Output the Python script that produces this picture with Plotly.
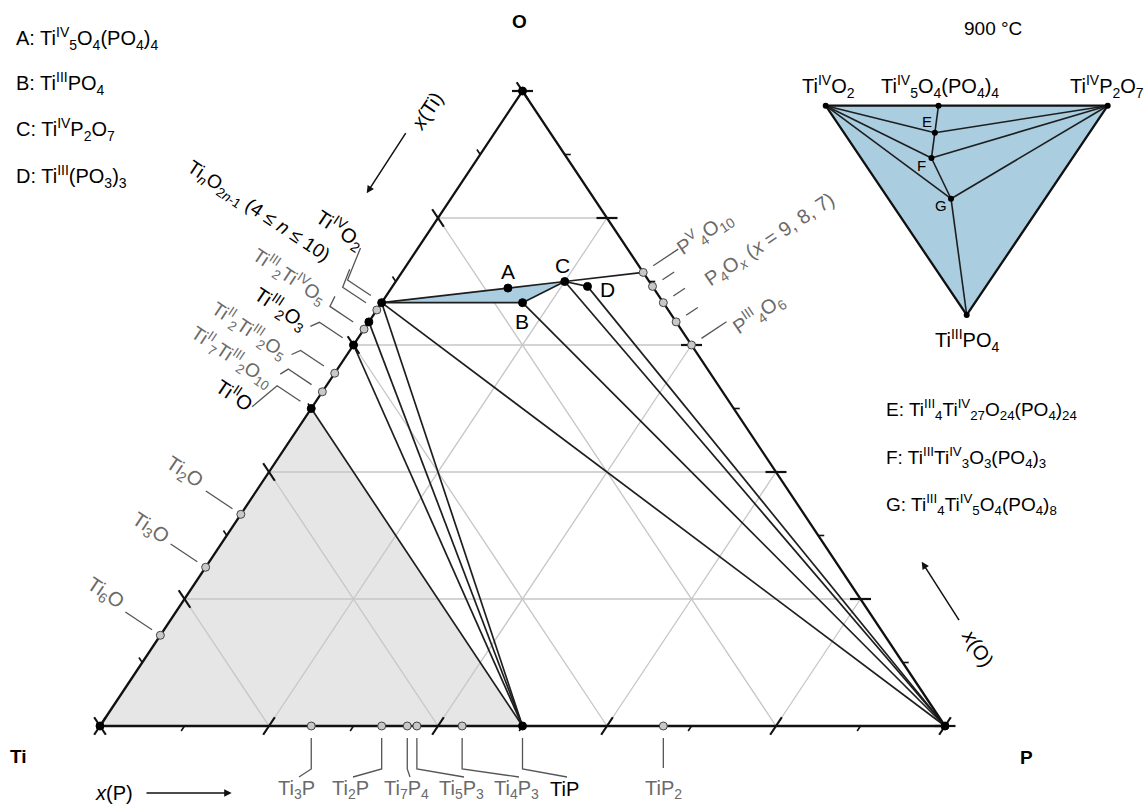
import plotly.graph_objects as go

W, H = 1148, 805

# ------------------------------------------------------------------ data
# phases of the Ti-P-O system (atoms per formula unit)
phase = ["Ti", "P", "O",
         "TiO", "Ti9O10", "Ti4O5", "Ti2O3", "Ti3O5", "Ti4O7", "Ti10O19", "TiO2",
         "Ti2O", "Ti3O", "Ti6O",
         "Ti3P", "Ti2P", "Ti7P4", "Ti5P3", "Ti4P3", "TiP", "TiP2",
         "P4O10", "P4O9", "P4O8", "P4O7", "P4O6",
         "A", "B", "C", "D"]
n_Ti = [1, 0, 0, 1, 9, 4, 2, 3, 4, 10, 1, 2, 3, 6, 3, 2, 7, 5, 4, 1, 1, 0, 0, 0, 0, 0, 5, 1, 1, 1]
n_P = [0, 1, 0, 0, 0, 0, 0, 0, 0, 0, 0, 0, 0, 0, 1, 1, 4, 3, 3, 1, 2, 4, 4, 4, 4, 4, 4, 1, 2, 3]
n_O = [0, 0, 1, 1, 10, 5, 3, 5, 7, 19, 2, 1, 1, 1, 0, 0, 0, 0, 0, 0, 0, 10, 9, 8, 7, 6, 20, 4, 7, 9]
stable = [1, 1, 1, 1, 0, 0, 1, 0, 1, 0, 1, 0, 0, 0, 0, 0, 0, 0, 0, 1, 0, 0, 0, 0, 0, 0, 1, 1, 1, 1]

# tie lines (pairs of phases)
tie_a = ["TiO", "Ti2O3", "Ti4O7", "TiO2", "TiO2", "B", "C", "D", "TiO2", "A", "TiO2", "B", "C", "C"]
tie_b = ["TiP", "TiP", "TiP", "TiP", "P", "P", "P", "P", "A", "C", "B", "C", "D", "P4O10"]

region_metal = ["Ti", "TiO", "TiP"]
region_oxide = ["TiO2", "A", "C", "B"]

grid_levels = [0.2, 0.4, 0.6, 0.8]
tick_levels = [0.0, 0.1, 0.2, 0.3, 0.4, 0.5, 0.6, 0.7, 0.8, 0.9, 1.0]

# inset (900 °C): formula-unit coefficients of TiO2, TiP2O7, TiPO4
inset_names = ["TiO2", "TiP2O7", "TiPO4", "A", "E", "F", "G"]
k_TiO2 = [1, 0, 0, 3, 17, 2, 3]
k_TiP2O7 = [0, 1, 0, 2, 10, 1, 2]
k_TiPO4 = [0, 0, 1, 0, 4, 1, 4]
inset_tie_a = ["TiO2", "TiO2", "TiO2", "TiP2O7", "TiP2O7", "TiP2O7", "A", "E", "F", "G"]
inset_tie_b = ["E", "F", "G", "E", "F", "G", "E", "F", "G", "TiPO4"]

# ------------------------------------------------------------------ geometry
X0, SX, Y0, SY = 100.0, 845.0, 726.0, 635.0      # pixel frame of the main triangle
IU0, IU1, IV0, IV1 = 825.7, 1107.7, 315.0, 105.7  # pixel frame of the inset
PAD = 0.05

FONT = "Liberation Sans Narrow, Arial Narrow, Liberation Sans, Arial, sans-serif"
GREY_TXT = "#6a6a6a"
BLUE = "#aacde0"
FS = 20


def frac(name):
    i = phase.index(name)
    t = n_Ti[i] + n_P[i] + n_O[i]
    return n_Ti[i] / t, n_P[i] / t, n_O[i] / t


def to_xy(ti, p, o):
    return p + o / 2.0, o


def xy_px(x, y):
    return X0 + SX * x, Y0 - SY * y


def px_xy(px, py):
    return (px - X0) / SX, (Y0 - py) / SY


def phase_xy(name):
    return to_xy(*frac(name))


def phase_px(name):
    return xy_px(*phase_xy(name))


def inset_uv(name):
    i = inset_names.index(name)
    a, b, c = k_TiO2[i], k_TiP2O7[i], k_TiPO4[i]
    s = a + b + c
    return b / s + 0.5 * c / s, 1 - c / s


fig = go.Figure()


def lines(segs, color, width, xa="x", ya="y"):
    xs, ys = [], []
    for s in segs:
        for (x, y) in s:
            xs.append(x)
            ys.append(y)
        xs.append(None)
        ys.append(None)
    fig.add_trace(go.Scatter(x=xs, y=ys, mode="lines", line=dict(color=color, width=width),
                             hoverinfo="skip", xaxis=xa, yaxis=ya))


def polygon(pts, fillcolor, xa="x", ya="y"):
    xs = [p[0] for p in pts] + [pts[0][0]]
    ys = [p[1] for p in pts] + [pts[0][1]]
    fig.add_trace(go.Scatter(x=xs, y=ys, mode="lines", fill="toself", fillcolor=fillcolor,
                             line=dict(width=0, color=fillcolor), hoverinfo="skip", xaxis=xa, yaxis=ya))


def px_seg(pts):
    return [px_xy(*p) for p in pts]


# ---- grey metal-rich region
polygon([phase_xy(n) for n in region_metal], "#e6e6e6")

# ---- grid
grid = []
for v in grid_levels:
    grid.append([to_xy(1 - v, 0, v), to_xy(0, 1 - v, v)])
    grid.append([to_xy(1 - v, v, 0), to_xy(0, v, 1 - v)])
    grid.append([to_xy(v, 1 - v, 0), to_xy(v, 0, 1 - v)])
lines(grid, "#c6c6c6", 1.3)

# ---- blue three-phase region
polygon([phase_xy(n) for n in region_oxide], BLUE)

# ---- tie lines
lines([[phase_xy(a), phase_xy(b)] for a, b in zip(tie_a, tie_b)], "#1e1e1e", 1.7)

# ---- triangle edges
lines([[phase_xy("Ti"), phase_xy("P"), phase_xy("O"), phase_xy("Ti")]], "#111111", 2.3)

# ---- ticks
big, small = [], []
dB = (0.554, -0.8326)
dL = (0.554, 0.8326)
dR = (1.0, 0.0)
for k, t in enumerate(tick_levels):
    edges = [(xy_px(*to_xy(1 - t, t, 0)), dB, -1),
             (xy_px(*to_xy(t, 0, 1 - t)), dL, -1),
             (xy_px(*to_xy(0, 1 - t, t)), dR, 1)]
    for (bx, by), d, sgn in edges:
        if k % 2 == 0:
            big.append(px_seg([(bx - 10.5 * d[0], by - 10.5 * d[1]), (bx + 10.5 * d[0], by + 10.5 * d[1])]))
        else:
            small.append(px_seg([(bx, by), (bx + sgn * 6 * d[0], by + sgn * 6 * d[1])]))
lines(big, "#111111", 2.2)
lines(small, "#111111", 1.6)

# ---- leader lines
nL = (-0.8326, -0.554)   # outward normal of Ti-O edge (pixels)
nR = (0.8326, -0.554)    # outward normal of O-P edge (pixels)
leaders = []
left_leaders = [("TiO2", (13, -32)), ("Ti10O19", (7, -18)), ("Ti3O5", (5, -10)), ("Ti2O3", (-9, 4)),
                ("Ti4O5", (-9, 4)), ("Ti9O10", (-8, 5)), ("TiO", (-25, 21))]
for name, (dx, dy) in left_leaders:
    px, py = phase_px(name)
    e = (px + 13 * nL[0], py + 13 * nL[1])
    kk = (px + 41 * nL[0], py + 41 * nL[1])
    leaders.append(px_seg([e, kk, (kk[0] + dx, kk[1] + dy)]))
for name in ["Ti2O", "Ti3O", "Ti6O"]:
    px, py = phase_px(name)
    leaders.append(px_seg([(px + 10 * nL[0], py + 10 * nL[1]), (px + 42 * nL[0], py + 42 * nL[1])]))
for name, r in [("P4O10", 42), ("P4O9", 26), ("P4O8", 26), ("P4O7", 26), ("P4O6", 42)]:
    px, py = phase_px(name)
    leaders.append(px_seg([(px + 12 * nR[0], py + 12 * nR[1]), (px + r * nR[0], py + r * nR[1])]))
bottom_labels = [("Ti3P", "Ti<sub>3</sub>P", 296), ("Ti2P", "Ti<sub>2</sub>P", 350),
                 ("Ti7P4", "Ti<sub>7</sub>P<sub>4</sub>", 407), ("Ti5P3", "Ti<sub>5</sub>P<sub>3</sub>", 461),
                 ("Ti4P3", "Ti<sub>4</sub>P<sub>3</sub>", 516), ("TiP", "TiP", 564),
                 ("TiP2", "TiP<sub>2</sub>", 663)]
for name, _, lx in bottom_labels:
    px, py = phase_px(name)
    if name == "TiP2":
        leaders.append(px_seg([(px, py + 12), (px, py + 42)]))
    else:
        leaders.append(px_seg([(px, py + 12), (px, py + 43), (lx + 3, py + 51)]))
lines(leaders, "#555555", 1.3)

# ---- phase points
for flag, fill, lc in [(0, "#c8c8c8", "#444444"), (1, "#000000", "#000000")]:
    names = [n for n, s in zip(phase, stable) if s == flag]
    pts = [phase_xy(n) for n in names]
    fig.add_trace(go.Scatter(x=[p[0] for p in pts], y=[p[1] for p in pts], mode="markers",
                             marker=dict(size=8, color=fill, line=dict(color=lc, width=1)),
                             cliponaxis=False, hoverinfo="skip"))

# ---- inset triangle
tri = [inset_uv("TiO2"), inset_uv("TiP2O7"), inset_uv("TiPO4")]
polygon(tri, BLUE, "x2", "y2")
lines([[inset_uv(a), inset_uv(b)] for a, b in zip(inset_tie_a, inset_tie_b)], "#1e1e1e", 1.6, "x2", "y2")
lines([tri + [tri[0]]], "#111111", 2.3, "x2", "y2")
ipts = [inset_uv(n) for n in inset_names]
fig.add_trace(go.Scatter(x=[p[0] for p in ipts], y=[p[1] for p in ipts], mode="markers",
                         marker=dict(size=6, color="#000000"), cliponaxis=False, hoverinfo="skip",
                         xaxis="x2", yaxis="y2"))

# ------------------------------------------------------------------ text
ann = []


def label(text, px, py, size=FS, color="#000000", angle=0, xanchor="center"):
    ann.append(dict(x=px / W, y=1 - py / H, xref="paper", yref="paper", text=text, showarrow=False,
                    textangle=angle, xanchor=xanchor, yanchor="middle",
                    font=dict(family=FONT, size=size, color=color)))


# legends
for i, t in enumerate(["A: Ti<sup>IV</sup><sub>5</sub>O<sub>4</sub>(PO<sub>4</sub>)<sub>4</sub>",
                       "B: Ti<sup>III</sup>PO<sub>4</sub>",
                       "C: Ti<sup>IV</sup>P<sub>2</sub>O<sub>7</sub>",
                       "D: Ti<sup>III</sup>(PO<sub>3</sub>)<sub>3</sub>"]):
    label(t, 14, 38 + 46 * i, xanchor="left")
for i, t in enumerate(["E: Ti<sup>III</sup><sub>4</sub>Ti<sup>IV</sup><sub>27</sub>O<sub>24</sub>(PO<sub>4</sub>)<sub>24</sub>",
                       "F: Ti<sup>III</sup>Ti<sup>IV</sup><sub>3</sub>O<sub>3</sub>(PO<sub>4</sub>)<sub>3</sub>",
                       "G: Ti<sup>III</sup><sub>4</sub>Ti<sup>IV</sup><sub>5</sub>O<sub>4</sub>(PO<sub>4</sub>)<sub>8</sub>"]):
    label(t, 884, 410 + 47 * i, size=19, xanchor="left")

# corner labels
label("<b>O</b>", 519, 22, size=19)
label("<b>Ti</b>", 18, 756, size=19)
label("<b>P</b>", 1026, 757, size=19)
label("900 °C", 993, 28, size=19)

# A-D labels
for t, px, py in [("A", 508, 271), ("B", 522, 321), ("C", 562, 265), ("D", 607, 289)]:
    label(t, px, py, size=21)

# left edge labels
A_L = 33.6
label("Ti<sup>IV</sup>O<sub>2</sub>", 340, 229, angle=A_L)
label("Ti<sub><i>n</i></sub>O<sub>2<i>n</i>-1</sub> (4 ≤ <i>n</i> ≤ 10)", 258, 212, size=19, angle=A_L)
label("Ti<sup>III</sup><sub>2</sub>Ti<sup>IV</sup>O<sub>5</sub>", 290, 276, size=19, angle=A_L, color=GREY_TXT)
label("Ti<sup>III</sup><sub>2</sub>O<sub>3</sub>", 281, 308, angle=A_L)
label("Ti<sup>II</sup><sub>2</sub>Ti<sup>III</sup><sub>2</sub>O<sub>5</sub>", 250, 330, size=19, angle=A_L, color=GREY_TXT)
label("Ti<sup>II</sup><sub>7</sub>Ti<sup>III</sup><sub>2</sub>O<sub>10</sub>", 232, 356, size=19, angle=A_L, color=GREY_TXT)
label("Ti<sup>II</sup>O", 235, 393, angle=A_L)
label("Ti<sub>2</sub>O", 184, 472, angle=A_L, color=GREY_TXT)
label("Ti<sub>3</sub>O", 150, 528, angle=A_L, color=GREY_TXT)
label("Ti<sub>6</sub>O", 105, 593, angle=A_L, color=GREY_TXT)

# right edge labels
A_R = -33.7
label("P<sup>V</sup><sub>4</sub>O<sub>10</sub>", 705, 233, angle=A_R, color=GREY_TXT)
label("P<sub>4</sub>O<sub><i>x</i></sub> (<i>x</i> = 9, 8, 7)", 770, 241, angle=A_R, color=GREY_TXT)
label("P<sup>III</sup><sub>4</sub>O<sub>6</sub>", 758, 313, angle=A_R, color=GREY_TXT)

# bottom labels
for name, t, lx in bottom_labels:
    label(t, lx, 789, color="#000000" if name == "TiP" else GREY_TXT)

# axis titles and arrows
label("<i>x</i>(Ti)", 427, 111, angle=-56.4)
label("<i>x</i>(O)", 978, 648, angle=56.4)
label("<i>x</i>(P)", 114, 793)
for hx, hy, ax, ay in [(366.7, 193.3, 40, -61.6), (921.7, 561.7, 38.3, 60), (231.7, 793, -86.7, 0)]:
    ann.append(dict(x=hx / W, y=1 - hy / H, xref="paper", yref="paper", text="", showarrow=True,
                    ax=ax, ay=ay, arrowhead=2, arrowsize=1, arrowwidth=1.5, arrowcolor="#111111"))

# inset labels
label("Ti<sup>IV</sup>O<sub>2</sub>", 828, 86)
label("Ti<sup>IV</sup><sub>5</sub>O<sub>4</sub>(PO<sub>4</sub>)<sub>4</sub>", 940, 86)
label("Ti<sup>IV</sup>P<sub>2</sub>O<sub>7</sub>", 1146, 86, xanchor="right")
label("Ti<sup>III</sup>PO<sub>4</sub>", 967, 340)
for t, px, py in [("E", 926.7, 121.7), ("F", 921.7, 165), ("G", 941, 206)]:
    label(t, px, py, size=15)

xdom = [(IU0 - PAD * (IU1 - IU0)) / W, (IU1 + PAD * (IU1 - IU0)) / W]
ydom = [1 - (IV0 + PAD * (IV0 - IV1)) / H, 1 - (IV1 - PAD * (IV0 - IV1)) / H]

fig.update_layout(
    width=W, height=H, margin=dict(l=0, r=0, t=0, b=0),
    paper_bgcolor="white", plot_bgcolor="rgba(0,0,0,0)", showlegend=False,
    xaxis=dict(range=[(0 - X0) / SX, (W - X0) / SX], domain=[0, 1], visible=False, fixedrange=True),
    yaxis=dict(range=[(Y0 - H) / SY, Y0 / SY], domain=[0, 1], visible=False, fixedrange=True),
    xaxis2=dict(range=[-PAD, 1 + PAD], domain=xdom, visible=False, anchor="y2", fixedrange=True),
    yaxis2=dict(range=[-PAD, 1 + PAD], domain=ydom, visible=False, anchor="x2", fixedrange=True),
    annotations=ann,
)

fig.write_html("out.html", config={"displayModeBar": False},
               post_script="document.body.style.margin='0px';")
